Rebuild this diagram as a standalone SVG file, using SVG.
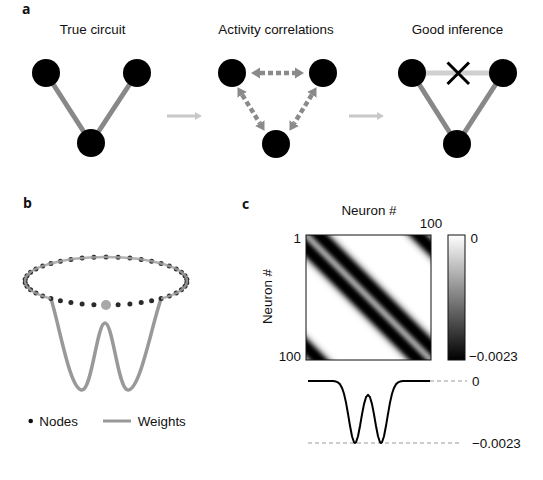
<svg xmlns="http://www.w3.org/2000/svg" width="543" height="480" viewBox="0 0 543 480">
<style>
text{font-family:"Liberation Sans",Arial,sans-serif;fill:#111}
.t{font-size:13.4px;text-anchor:middle}
.lab{font-size:13.4px}
.pl{font-family:"Open Sans","Liberation Sans",sans-serif;font-weight:bold;font-size:14px}
.node{fill:#000}
.edge{stroke:#888;stroke-width:5;fill:none}
.dash{stroke:#8a8a8a;stroke-width:4.5;stroke-dasharray:5 3;fill:none;marker-start:url(#ah);marker-end:url(#ah)}
.flow{stroke:#c8c8c8;stroke-width:3;fill:none;marker-end:url(#fh)}
.dot{fill:#2a2a2a}
.gd{stroke:#999;stroke-width:1;stroke-dasharray:4 3;fill:none}
</style>
<defs>
<marker id="ah" markerUnits="userSpaceOnUse" markerWidth="10" markerHeight="12" refX="0" refY="6" orient="auto-start-reverse" viewBox="0 0 10 12">
<path d="M0,0.5 L9,6 L0,11.5 z" fill="#8a8a8a"/>
</marker>
<marker id="fh" markerUnits="userSpaceOnUse" markerWidth="8" markerHeight="10" refX="0" refY="5" orient="auto" viewBox="0 0 8 10">
<path d="M0,1 L7,5 L0,9 z" fill="#c8c8c8"/>
</marker>
<linearGradient id="mat" gradientUnits="userSpaceOnUse" x1="306" y1="360" x2="431" y2="235">
<stop offset="0" stop-color="rgb(154,154,154)"/>
<stop offset="0.008" stop-color="rgb(139,139,139)"/>
<stop offset="0.016" stop-color="rgb(101,101,101)"/>
<stop offset="0.024" stop-color="rgb(54,54,54)"/>
<stop offset="0.032" stop-color="rgb(19,19,19)"/>
<stop offset="0.04" stop-color="rgb(3,3,3)"/>
<stop offset="0.048" stop-color="rgb(0,0,0)"/>
<stop offset="0.056" stop-color="rgb(0,0,0)"/>
<stop offset="0.064" stop-color="rgb(3,3,3)"/>
<stop offset="0.072" stop-color="rgb(20,20,20)"/>
<stop offset="0.08" stop-color="rgb(57,57,57)"/>
<stop offset="0.088" stop-color="rgb(108,108,108)"/>
<stop offset="0.096" stop-color="rgb(160,160,160)"/>
<stop offset="0.104" stop-color="rgb(202,202,202)"/>
<stop offset="0.112" stop-color="rgb(228,228,228)"/>
<stop offset="0.12" stop-color="rgb(243,243,243)"/>
<stop offset="0.128" stop-color="rgb(250,250,250)"/>
<stop offset="0.14" stop-color="rgb(255,255,255)"/>
<stop offset="0.36" stop-color="rgb(255,255,255)"/>
<stop offset="0.372" stop-color="rgb(250,250,250)"/>
<stop offset="0.38" stop-color="rgb(243,243,243)"/>
<stop offset="0.388" stop-color="rgb(228,228,228)"/>
<stop offset="0.396" stop-color="rgb(202,202,202)"/>
<stop offset="0.404" stop-color="rgb(160,160,160)"/>
<stop offset="0.412" stop-color="rgb(108,108,108)"/>
<stop offset="0.42" stop-color="rgb(57,57,57)"/>
<stop offset="0.428" stop-color="rgb(20,20,20)"/>
<stop offset="0.436" stop-color="rgb(3,3,3)"/>
<stop offset="0.444" stop-color="rgb(0,0,0)"/>
<stop offset="0.452" stop-color="rgb(0,0,0)"/>
<stop offset="0.46" stop-color="rgb(3,3,3)"/>
<stop offset="0.468" stop-color="rgb(19,19,19)"/>
<stop offset="0.476" stop-color="rgb(54,54,54)"/>
<stop offset="0.484" stop-color="rgb(101,101,101)"/>
<stop offset="0.492" stop-color="rgb(139,139,139)"/>
<stop offset="0.5" stop-color="rgb(154,154,154)"/>
<stop offset="0.508" stop-color="rgb(139,139,139)"/>
<stop offset="0.516" stop-color="rgb(101,101,101)"/>
<stop offset="0.524" stop-color="rgb(54,54,54)"/>
<stop offset="0.532" stop-color="rgb(19,19,19)"/>
<stop offset="0.54" stop-color="rgb(3,3,3)"/>
<stop offset="0.548" stop-color="rgb(0,0,0)"/>
<stop offset="0.556" stop-color="rgb(0,0,0)"/>
<stop offset="0.564" stop-color="rgb(3,3,3)"/>
<stop offset="0.572" stop-color="rgb(20,20,20)"/>
<stop offset="0.58" stop-color="rgb(57,57,57)"/>
<stop offset="0.588" stop-color="rgb(108,108,108)"/>
<stop offset="0.596" stop-color="rgb(160,160,160)"/>
<stop offset="0.604" stop-color="rgb(202,202,202)"/>
<stop offset="0.612" stop-color="rgb(228,228,228)"/>
<stop offset="0.62" stop-color="rgb(243,243,243)"/>
<stop offset="0.628" stop-color="rgb(250,250,250)"/>
<stop offset="0.64" stop-color="rgb(255,255,255)"/>
<stop offset="0.86" stop-color="rgb(255,255,255)"/>
<stop offset="0.872" stop-color="rgb(250,250,250)"/>
<stop offset="0.88" stop-color="rgb(243,243,243)"/>
<stop offset="0.888" stop-color="rgb(228,228,228)"/>
<stop offset="0.896" stop-color="rgb(202,202,202)"/>
<stop offset="0.904" stop-color="rgb(160,160,160)"/>
<stop offset="0.912" stop-color="rgb(108,108,108)"/>
<stop offset="0.92" stop-color="rgb(57,57,57)"/>
<stop offset="0.928" stop-color="rgb(20,20,20)"/>
<stop offset="0.936" stop-color="rgb(3,3,3)"/>
<stop offset="0.944" stop-color="rgb(0,0,0)"/>
<stop offset="0.952" stop-color="rgb(0,0,0)"/>
<stop offset="0.96" stop-color="rgb(3,3,3)"/>
<stop offset="0.968" stop-color="rgb(19,19,19)"/>
<stop offset="0.976" stop-color="rgb(54,54,54)"/>
<stop offset="0.984" stop-color="rgb(101,101,101)"/>
<stop offset="0.992" stop-color="rgb(139,139,139)"/>
<stop offset="1" stop-color="rgb(154,154,154)"/>
</linearGradient>
<linearGradient id="cbar" x1="0" y1="0" x2="0" y2="1">
<stop offset="0" stop-color="#fff"/>
<stop offset="1" stop-color="#000"/>
</linearGradient>
</defs>
<rect width="543" height="480" fill="#fff"/>

<!-- Panel a -->
<text class="pl" x="22" y="13.5">a</text>
<text class="t" x="92.5" y="34">True circuit</text>
<text class="t" x="276" y="34">Activity correlations</text>
<text class="t" x="457.5" y="34">Good inference</text>

<g id="connectors">
<line class="edge" x1="46" y1="73" x2="91" y2="143"/>
<line class="edge" x1="137" y1="73" x2="91" y2="143"/>
<line class="dash" x1="260" y1="73" x2="295" y2="73"/>
<line class="dash" x1="242.2" y1="94.8" x2="259.8" y2="123.2"/>
<line class="dash" x1="311.8" y1="94.8" x2="294.2" y2="123.2"/>
<line class="flow" x1="167" y1="116" x2="195" y2="116"/>
<line class="flow" x1="349" y1="116" x2="377" y2="116"/>
<line x1="412" y1="73" x2="503" y2="73" stroke="#d0d0d0" stroke-width="5"/>
<line class="edge" x1="412" y1="73" x2="457" y2="144"/>
<line class="edge" x1="503" y1="73" x2="457" y2="144"/>
<path d="M447.5,62.5 L469,84 M447.5,84 L469,62.5" stroke="#000" stroke-width="3" fill="none"/>
</g>

<g id="n-true-left"><circle class="node" cx="46" cy="73" r="14"/></g>
<g id="n-true-right"><circle class="node" cx="137" cy="73" r="14"/></g>
<g id="n-true-bottom"><circle class="node" cx="91" cy="143" r="14"/></g>
<g id="n-act-left"><circle class="node" cx="232" cy="73" r="14"/></g>
<g id="n-act-right"><circle class="node" cx="323" cy="73" r="14"/></g>
<g id="n-act-bottom"><circle class="node" cx="276" cy="144" r="14"/></g>
<g id="n-good-left"><circle class="node" cx="412" cy="73" r="14"/></g>
<g id="n-good-right"><circle class="node" cx="503" cy="73" r="14"/></g>
<g id="n-good-bottom"><circle class="node" cx="457" cy="144" r="14"/></g>

<!-- Panel b -->
<text class="pl" x="23" y="208">b</text>
<g id="ring">
<path d="M50.9,298.6 C60,328 70,390 82,390 C92,390 97,323 105,323 C113,323 118,390 128,390 C140,390 151,328 161.1,298.6" stroke="#999" stroke-width="3.5" fill="none" stroke-linejoin="round"/>
<g class="dot">
<circle cx="93.9" cy="304.7" r="2.5"/><circle cx="82.1" cy="303.9" r="2.5"/><circle cx="70.9" cy="302.6" r="2.5"/><circle cx="60.4" cy="300.8" r="2.5"/><circle cx="50.9" cy="298.6" r="2.5"/><circle cx="42.7" cy="296" r="2.5"/><circle cx="35.9" cy="293" r="2.5"/><circle cx="30.6" cy="289.8" r="2.5"/><circle cx="27" cy="286.3" r="2.5"/><circle cx="25.2" cy="282.8" r="2.5"/><circle cx="25.2" cy="279.2" r="2.5"/><circle cx="27" cy="275.7" r="2.5"/><circle cx="30.6" cy="272.2" r="2.5"/><circle cx="35.9" cy="269" r="2.5"/><circle cx="42.7" cy="266" r="2.5"/><circle cx="50.9" cy="263.4" r="2.5"/><circle cx="60.4" cy="261.2" r="2.5"/><circle cx="70.9" cy="259.4" r="2.5"/><circle cx="82.1" cy="258.1" r="2.5"/><circle cx="93.9" cy="257.3" r="2.5"/><circle cx="106" cy="257" r="2.5"/><circle cx="118.1" cy="257.3" r="2.5"/><circle cx="129.9" cy="258.1" r="2.5"/><circle cx="141.2" cy="259.4" r="2.5"/><circle cx="151.6" cy="261.2" r="2.5"/><circle cx="161.1" cy="263.4" r="2.5"/><circle cx="169.3" cy="266" r="2.5"/><circle cx="176.2" cy="269" r="2.5"/><circle cx="181.4" cy="272.2" r="2.5"/><circle cx="185" cy="275.7" r="2.5"/><circle cx="186.8" cy="279.2" r="2.5"/><circle cx="186.8" cy="282.8" r="2.5"/><circle cx="185" cy="286.3" r="2.5"/><circle cx="181.4" cy="289.8" r="2.5"/><circle cx="176.2" cy="293" r="2.5"/><circle cx="169.3" cy="296" r="2.5"/><circle cx="161.1" cy="298.6" r="2.5"/><circle cx="151.6" cy="300.8" r="2.5"/><circle cx="141.2" cy="302.6" r="2.5"/><circle cx="129.9" cy="303.9" r="2.5"/><circle cx="118.1" cy="304.7" r="2.5"/>
</g>
<path d="M50.9,298.6 A81,24 0 1 1 161.1,298.6" stroke="#a4a4a4" stroke-width="2.4" stroke-opacity="0.85" fill="none"/>
<circle cx="106" cy="305" r="5" fill="#a8a8a8"/>
</g>
<g id="legend">
<circle cx="30.7" cy="421" r="2.3" fill="#111"/>
<text class="lab" x="39.3" y="426">Nodes</text>
<line x1="103" y1="421" x2="131" y2="421" stroke="#999" stroke-width="3"/>
<text class="lab" x="137.7" y="426">Weights</text>
</g>

<!-- Panel c -->
<text class="pl" x="242" y="209">c</text>
<g id="matrix">
<text class="t" x="369" y="215">Neuron #</text>
<text class="t" transform="translate(271.5,296.5) rotate(-90)">Neuron #</text>
<rect x="306" y="235" width="125" height="125" fill="url(#mat)" stroke="#111" stroke-width="1"/>
<text class="lab" x="301" y="243" text-anchor="end">1</text>
<text class="lab" x="431" y="228" text-anchor="middle">100</text>
<text class="lab" x="301" y="361" text-anchor="end">100</text>
</g>
<g id="colorbar">
<rect x="448" y="235" width="17" height="125" fill="url(#cbar)" stroke="#111" stroke-width="1"/>
<text class="lab" x="470.5" y="243">0</text>
<text class="lab" x="469" y="361">−0.0023</text>
</g>
<g id="profile">
<line class="gd" x1="430" y1="381" x2="467" y2="381"/>
<line class="gd" x1="308" y1="443" x2="460" y2="443"/>
<path d="M308,381 L333,381.1 L336,381.6 L338,382.4 L340,384.3 L342,387.9 L344,393.8 L346,402.6 L348,413.8 L350,425.8 L352,436.2 L354,442.2 L355,443 L356,442.2 L358,436.2 L360,426 L362,414.4 L364,404.1 L366,397.2 L368,394.8 L370,397.2 L372,404.1 L374,414.4 L376,426 L378,436.2 L380,442.2 L381,443 L382,442.2 L384,436.2 L386,425.8 L388,413.8 L390,402.6 L392,393.8 L394,387.9 L396,384.3 L398,382.4 L400,381.6 L403,381.1 L430,381" stroke="#000" stroke-width="2" fill="none" stroke-linejoin="round"/>
<text class="lab" x="472" y="386">0</text>
<text class="lab" x="472" y="448">−0.0023</text>
</g>
</svg>
